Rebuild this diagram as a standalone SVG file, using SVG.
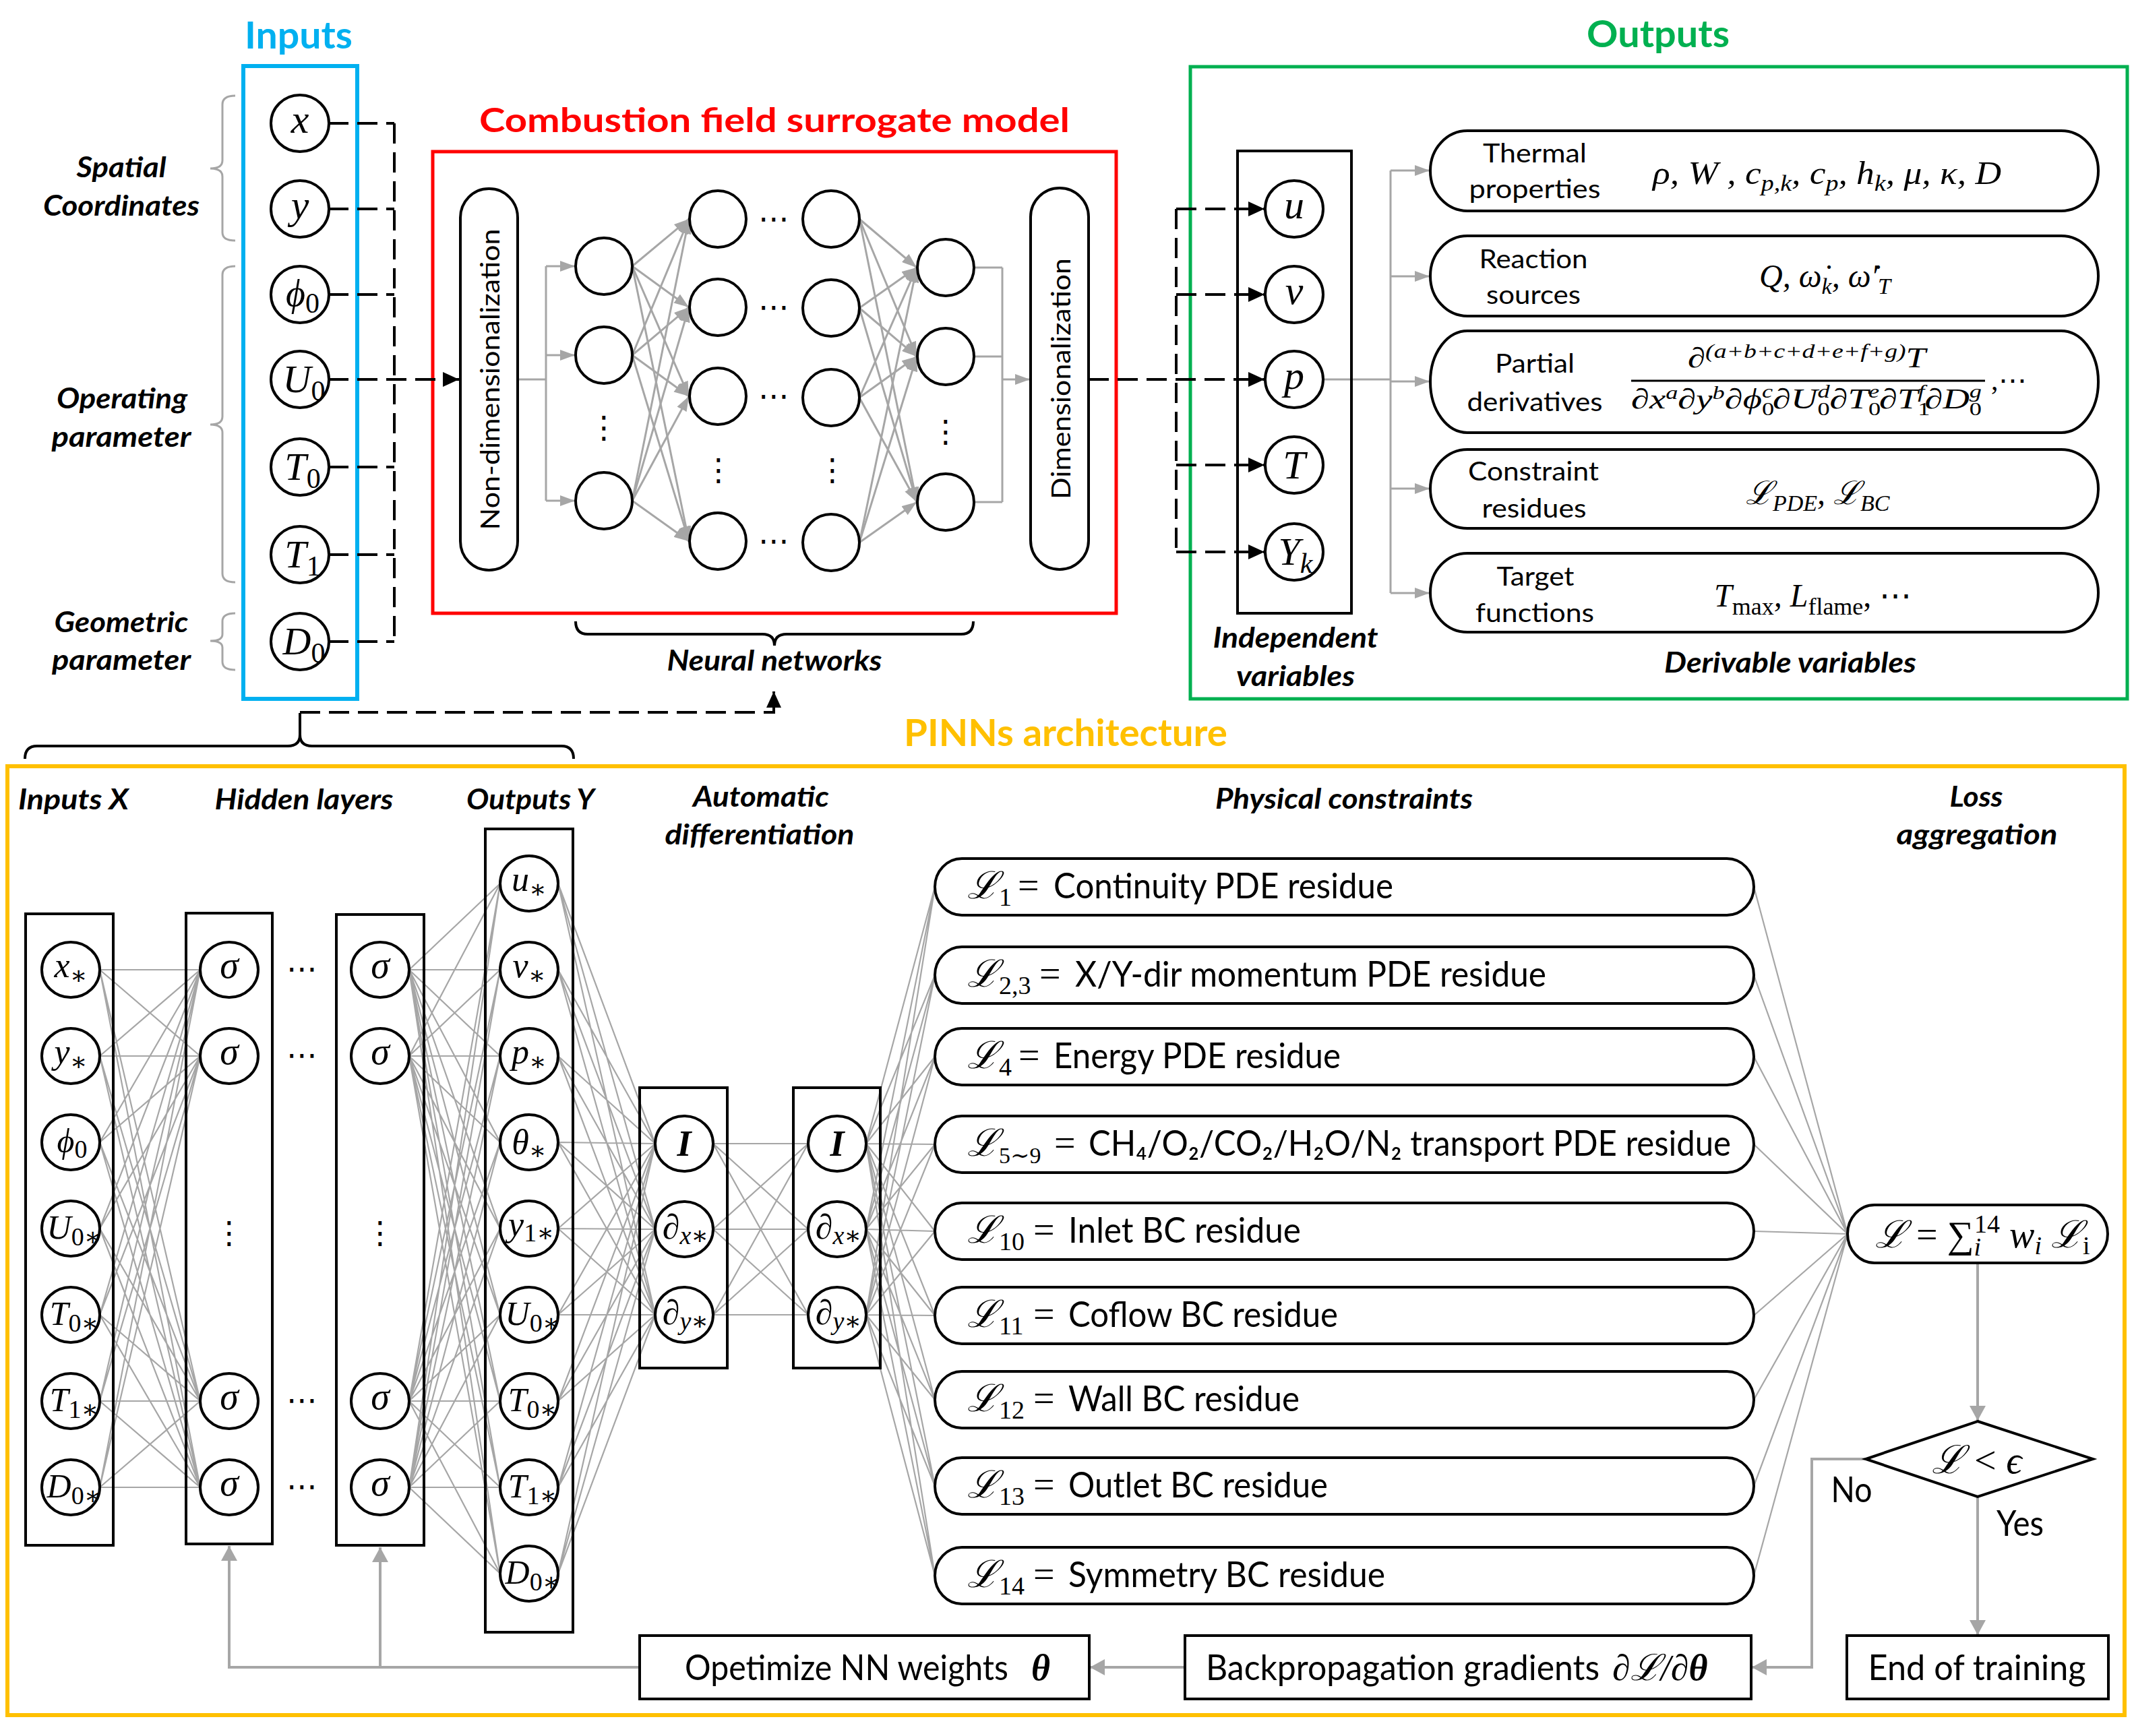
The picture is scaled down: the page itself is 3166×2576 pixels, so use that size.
<svg xmlns="http://www.w3.org/2000/svg" width="3166" height="2576" viewBox="0 0 3166 2576">
<defs>
<style>
.bx{fill:none;stroke:#000;stroke-width:4}
.nd{fill:#fff;stroke:#000;stroke-width:4}
.gl{fill:none;stroke:#A6A6A6;stroke-width:2.2}
.ga{fill:none;stroke:#A6A6A6;stroke-width:3}
.gf{fill:none;stroke:#A6A6A6;stroke-width:4}
.dl{fill:none;stroke:#000;stroke-width:4;stroke-dasharray:30 13}
.br{fill:none;stroke:#A6A6A6;stroke-width:3}
.bk{fill:none;stroke:#000;stroke-width:4}
.ti{font-family:Lato,'Open Sans',sans-serif;font-weight:700;text-anchor:middle}
.bi{font-family:Lato,'Open Sans',sans-serif;font-weight:700;font-style:italic;text-anchor:middle;font-size:42px;fill:#000}
.tx{font-family:Lato,'Open Sans',sans-serif;font-size:38px;text-anchor:middle;fill:#000}
.pt{font-family:Lato,'Open Sans',sans-serif;font-size:52px;fill:#000}
.mt{font-family:'Liberation Serif','DejaVu Serif',serif;font-style:italic;fill:#000}
.mr{font-family:'Liberation Serif','DejaVu Serif',serif;fill:#000}
.nl{font-family:'Liberation Serif','DejaVu Serif',serif;font-style:italic;text-anchor:middle;fill:#000}
.dots{font-family:'DejaVu Sans',sans-serif;font-size:46px;text-anchor:middle;fill:#000}
</style>
<marker id="ag" markerUnits="userSpaceOnUse" markerWidth="22" markerHeight="16" viewBox="0 0 22 16" refX="22" refY="8" orient="auto"><path d="M0,0 L22,8 L0,16 z" fill="#A6A6A6"/></marker>
<marker id="ag2" markerUnits="userSpaceOnUse" markerWidth="22" markerHeight="24" viewBox="0 0 22 24" refX="22" refY="12" orient="auto"><path d="M0,0 L22,12 L0,24 z" fill="#A6A6A6"/></marker>
<marker id="ab" markerUnits="userSpaceOnUse" markerWidth="24" markerHeight="22" viewBox="0 0 24 22" refX="24" refY="11" orient="auto"><path d="M0,0 L24,11 L0,22 z" fill="#000"/></marker>
</defs>
<rect x="0" y="0" width="3166" height="2576" fill="#fff"/>

<g id="frames">
<rect x="361" y="98" width="169" height="939" fill="none" stroke="#00B0F0" stroke-width="6"/>
<text class="ti" x="443" y="72" font-size="56" fill="#00B0F0" textLength="160" lengthAdjust="spacingAndGlyphs">Inputs</text>
<rect x="642" y="225" width="1014" height="685" fill="none" stroke="#FF0000" stroke-width="5"/>
<text class="ti" x="1149" y="196" font-size="50" fill="#FF0000" textLength="876" lengthAdjust="spacingAndGlyphs">Combustion field surrogate model</text>
<rect x="1766" y="99" width="1390" height="938" fill="none" stroke="#00B050" stroke-width="5"/>
<text class="ti" x="2460" y="70" font-size="56" fill="#00B050" textLength="212" lengthAdjust="spacingAndGlyphs">Outputs</text>
<rect x="11" y="1137" width="3141" height="1408" fill="none" stroke="#FFC000" stroke-width="6"/>
<text class="ti" x="1581" y="1107" font-size="56" fill="#FFC000" textLength="480" lengthAdjust="spacingAndGlyphs">PINNs architecture</text>
</g>

<g id="labels">
<text class="bi" x="180" y="263" textLength="133" lengthAdjust="spacingAndGlyphs">Spatial</text>
<text class="bi" x="180" y="320" textLength="232" lengthAdjust="spacingAndGlyphs">Coordinates</text>
<text class="bi" x="181" y="606" textLength="194" lengthAdjust="spacingAndGlyphs">Operating</text>
<text class="bi" x="180" y="663" textLength="207" lengthAdjust="spacingAndGlyphs">parameter</text>
<text class="bi" x="180" y="938" textLength="199" lengthAdjust="spacingAndGlyphs">Geometric</text>
<text class="bi" x="180" y="994" textLength="206" lengthAdjust="spacingAndGlyphs">parameter</text>
<text class="bi" x="1149" y="995" textLength="319" lengthAdjust="spacingAndGlyphs">Neural networks</text>
<text class="bi" x="1922" y="961" textLength="245" lengthAdjust="spacingAndGlyphs">Independent</text>
<text class="bi" x="1922" y="1018" textLength="176" lengthAdjust="spacingAndGlyphs">variables</text>
<text class="bi" x="2656" y="998" textLength="374" lengthAdjust="spacingAndGlyphs">Derivable variables</text>
<text class="bi" x="109" y="1201" textLength="164" lengthAdjust="spacingAndGlyphs">Inputs X</text>
<text class="bi" x="451" y="1201" textLength="265" lengthAdjust="spacingAndGlyphs">Hidden layers</text>
<text class="bi" x="787" y="1201" textLength="190" lengthAdjust="spacingAndGlyphs">Outputs Y</text>
<text class="bi" x="1129" y="1197" textLength="202" lengthAdjust="spacingAndGlyphs">Automatic</text>
<text class="bi" x="1127" y="1253" textLength="281" lengthAdjust="spacingAndGlyphs">differentiation</text>
<text class="bi" x="1994" y="1200" textLength="382" lengthAdjust="spacingAndGlyphs">Physical constraints</text>
<text class="bi" x="2932" y="1197" textLength="79" lengthAdjust="spacingAndGlyphs">Loss</text>
<text class="bi" x="2933" y="1253" textLength="239" lengthAdjust="spacingAndGlyphs">aggregation</text>
<path class="br" d="M349 142 Q330 142 330 155 L330 238 Q330 250 312 250 Q330 250 330 262 L330 345 Q330 357 349 357"/>
<path class="br" d="M349 395 Q330 395 330 408 L330 618 Q330 630 312 630 Q330 630 330 642 L330 851 Q330 864 349 864"/>
<path class="br" d="M349 910 Q330 910 330 922 L330 941 Q330 951 312 951 Q330 951 330 961 L330 982 Q330 994 349 994"/>
<path class="bk" d="M854 922 Q854 941 872 941 L1131 941 Q1149 941 1149 958 Q1149 941 1167 941 L1426 941 Q1444 941 1444 922"/>
<path class="bk" d="M37 1126 Q37 1107 55 1107 L427 1107 Q445 1107 445 1090 Q445 1107 463 1107 L833 1107 Q851 1107 851 1126 M445 1090 L445 1058"/>
</g>

<g id="connectors">
<path class="dl" d="M487 183 L585 183 M487 310 L585 310 M487 437 L585 437 M487 693 L585 693 M487 823 L585 823 M487 952 L585 952 M585 183 L585 952"/>
<path class="dl" d="M487 563 L681 563" marker-end="url(#ab)"/>
<path class="ga" d="M768 563 L810 563 M810 395 L810 743 M1445 397 L1487 397 M1445 529 L1487 529 M1445 745 L1487 745 M1487 397 L1487 745"/>
<g class="ga" marker-end="url(#ag)">
<line x1="810" y1="395" x2="853" y2="395"/><line x1="810" y1="527" x2="853" y2="527"/><line x1="810" y1="743" x2="853" y2="743"/>
<line x1="1487" y1="563" x2="1528" y2="563"/>
<line x1="938" y1="395" x2="1022" y2="325"/><line x1="938" y1="395" x2="1022" y2="456"/><line x1="938" y1="395" x2="1022" y2="588"/><line x1="938" y1="395" x2="1022" y2="803"/>
<line x1="938" y1="527" x2="1022" y2="325"/><line x1="938" y1="527" x2="1022" y2="456"/><line x1="938" y1="527" x2="1022" y2="588"/><line x1="938" y1="527" x2="1022" y2="803"/>
<line x1="938" y1="743" x2="1022" y2="325"/><line x1="938" y1="743" x2="1022" y2="456"/><line x1="938" y1="743" x2="1022" y2="588"/><line x1="938" y1="743" x2="1022" y2="803"/>
<line x1="1275" y1="325" x2="1360" y2="397"/><line x1="1275" y1="325" x2="1360" y2="529"/><line x1="1275" y1="325" x2="1360" y2="745"/>
<line x1="1275" y1="457" x2="1360" y2="397"/><line x1="1275" y1="457" x2="1360" y2="529"/><line x1="1275" y1="457" x2="1360" y2="745"/>
<line x1="1275" y1="590" x2="1360" y2="397"/><line x1="1275" y1="590" x2="1360" y2="529"/><line x1="1275" y1="590" x2="1360" y2="745"/>
<line x1="1275" y1="805" x2="1360" y2="397"/><line x1="1275" y1="805" x2="1360" y2="529"/><line x1="1275" y1="805" x2="1360" y2="745"/>
</g>
<path class="dl" d="M1745 310 L1745 819"/>
<g class="dl" marker-end="url(#ab)">
<line x1="1615" y1="563" x2="1876" y2="563"/>
<line x1="1745" y1="310" x2="1876" y2="310"/>
<line x1="1745" y1="437" x2="1876" y2="437"/>
<line x1="1745" y1="690" x2="1876" y2="690"/>
<line x1="1745" y1="819" x2="1876" y2="819"/>
</g>
<path class="ga" d="M1963 563 L2063 563 M2063 253 L2063 880"/>
<g class="ga" marker-end="url(#ag)">
<line x1="2063" y1="253" x2="2121" y2="253"/>
<line x1="2063" y1="410" x2="2121" y2="410"/>
<line x1="2063" y1="566" x2="2121" y2="566"/>
<line x1="2063" y1="725" x2="2121" y2="725"/>
<line x1="2063" y1="880" x2="2121" y2="880"/>
</g>
<path class="dl" d="M445 1057 L1148 1057 L1148 1026" marker-end="url(#ab)"/>
<path class="gl" d="M148 1439L297 1439M148 1439L297 1567M148 1439L297 2079M148 1439L297 2207M148 1567L297 1439M148 1567L297 1567M148 1567L297 2079M148 1567L297 2207M148 1695L297 1439M148 1695L297 1567M148 1695L297 2079M148 1695L297 2207M148 1823L297 1439M148 1823L297 1567M148 1823L297 2079M148 1823L297 2207M148 1951L297 1439M148 1951L297 1567M148 1951L297 2079M148 1951L297 2207M148 2079L297 1439M148 2079L297 1567M148 2079L297 2079M148 2079L297 2207M148 2207L297 1439M148 2207L297 1567M148 2207L297 2079M148 2207L297 2207"/>
<path class="gl" d="M607 1439L742 1311M607 1439L742 1439M607 1439L742 1567M607 1439L742 1695M607 1439L742 1823M607 1439L742 1951M607 1439L742 2079M607 1439L742 2207M607 1439L742 2335M607 1567L742 1311M607 1567L742 1439M607 1567L742 1567M607 1567L742 1695M607 1567L742 1823M607 1567L742 1951M607 1567L742 2079M607 1567L742 2207M607 1567L742 2335M607 2079L742 1311M607 2079L742 1439M607 2079L742 1567M607 2079L742 1695M607 2079L742 1823M607 2079L742 1951M607 2079L742 2079M607 2079L742 2207M607 2079L742 2335M607 2207L742 1311M607 2207L742 1439M607 2207L742 1567M607 2207L742 1695M607 2207L742 1823M607 2207L742 1951M607 2207L742 2079M607 2207L742 2207M607 2207L742 2335"/>
<path class="gl" d="M828 1311L972 1697M828 1311L972 1824M828 1311L972 1951M828 1439L972 1697M828 1439L972 1824M828 1439L972 1951M828 1567L972 1697M828 1567L972 1824M828 1567L972 1951M828 1695L972 1697M828 1695L972 1824M828 1695L972 1951M828 1823L972 1697M828 1823L972 1824M828 1823L972 1951M828 1951L972 1697M828 1951L972 1824M828 1951L972 1951M828 2079L972 1697M828 2079L972 1824M828 2079L972 1951M828 2207L972 1697M828 2207L972 1824M828 2207L972 1951M828 2335L972 1697M828 2335L972 1824M828 2335L972 1951"/>
<path class="gl" d="M1058 1697L1199 1697M1058 1697L1199 1824M1058 1697L1199 1951M1058 1824L1199 1697M1058 1824L1199 1824M1058 1824L1199 1951M1058 1951L1199 1697M1058 1951L1199 1824M1058 1951L1199 1951"/>
<path class="gl" d="M1285 1697L1387 1316M1285 1697L1387 1447M1285 1697L1387 1568M1285 1697L1387 1698M1285 1697L1387 1827M1285 1697L1387 1952M1285 1697L1387 2077M1285 1697L1387 2205M1285 1697L1387 2338M1285 1824L1387 1316M1285 1824L1387 1447M1285 1824L1387 1568M1285 1824L1387 1698M1285 1824L1387 1827M1285 1824L1387 1952M1285 1824L1387 2077M1285 1824L1387 2205M1285 1824L1387 2338M1285 1951L1387 1316M1285 1951L1387 1447M1285 1951L1387 1568M1285 1951L1387 1698M1285 1951L1387 1827M1285 1951L1387 1952M1285 1951L1387 2077M1285 1951L1387 2205M1285 1951L1387 2338"/>
<path class="gl" d="M2602 1316L2741 1831M2602 1447L2741 1831M2602 1568L2741 1831M2602 1698L2741 1831M2602 1827L2741 1831M2602 1952L2741 1831M2602 2077L2741 1831M2602 2205L2741 1831M2602 2338L2741 1831"/>
<path class="gf" d="M949 2474 L340 2474 L340 2294" marker-end="url(#ag2)"/>
<path class="gf" d="M564 2474 L564 2296" marker-end="url(#ag2)"/>
<path class="gf" d="M1758 2474 L1617 2474" marker-end="url(#ag2)"/>
<path class="gf" d="M2768 2165 L2688 2165 L2688 2474 L2599 2474" marker-end="url(#ag2)"/>
<path class="gf" d="M2934 1874 L2934 2108" marker-end="url(#ag2)"/>
<path class="gf" d="M2934 2221 L2934 2426" marker-end="url(#ag2)"/>
</g>

<g id="input-nodes">
<g id="in-x"><ellipse class="nd" cx="445" cy="183" rx="43" ry="42"/><text class="nl" x="445" y="197" font-size="60">x</text></g>
<g id="in-y"><ellipse class="nd" cx="445" cy="310" rx="43" ry="42"/><text class="nl" x="445" y="324" font-size="60">y</text></g>
<g id="in-phi0"><ellipse class="nd" cx="445" cy="437" rx="43" ry="42"/><text class="nl" x="449" y="454" font-size="56">ϕ<tspan font-size="42" font-style="normal" dy="10">0</tspan></text></g>
<g id="in-U0"><ellipse class="nd" cx="445" cy="563" rx="43" ry="42"/><text class="nl" x="451" y="582" font-size="58">U<tspan font-size="42" font-style="normal" dy="12">0</tspan></text></g>
<g id="in-T0"><ellipse class="nd" cx="445" cy="693" rx="43" ry="42"/><text class="nl" x="449" y="712" font-size="58">T<tspan font-size="42" font-style="normal" dy="12">0</tspan></text></g>
<g id="in-T1"><ellipse class="nd" cx="445" cy="823" rx="43" ry="42"/><text class="nl" x="449" y="842" font-size="58">T<tspan font-size="42" font-style="normal" dy="12">1</tspan></text></g>
<g id="in-D0"><ellipse class="nd" cx="445" cy="952" rx="43" ry="42"/><text class="nl" x="451" y="971" font-size="58">D<tspan font-size="42" font-style="normal" dy="12">0</tspan></text></g>
</g>

<g id="surrogate-model">
<g id="non-dim"><rect class="nd" x="683" y="280" width="85" height="566" rx="42" ry="43"/><text class="tx" font-size="44" transform="translate(741 563) rotate(-90)" textLength="447" lengthAdjust="spacingAndGlyphs">Non-dimensionalization</text></g>
<g id="dim"><rect class="nd" x="1529" y="279" width="86" height="566" rx="43" ry="43"/><text class="tx" font-size="44" transform="translate(1588 562) rotate(-90)" textLength="358" lengthAdjust="spacingAndGlyphs">Dimensionalization</text></g>
<g id="nn-col1"><circle class="nd" cx="896" cy="395" r="42"/><circle class="nd" cx="896" cy="527" r="42"/><circle class="nd" cx="896" cy="743" r="42"/><text class="dots" x="896" y="650">⋮</text></g>
<g id="nn-col2"><circle class="nd" cx="1065" cy="325" r="42"/><circle class="nd" cx="1065" cy="456" r="42"/><circle class="nd" cx="1065" cy="588" r="42"/><circle class="nd" cx="1065" cy="803" r="42"/><text class="dots" x="1066" y="713">⋮</text></g>
<g id="nn-col3"><circle class="nd" cx="1233" cy="325" r="42"/><circle class="nd" cx="1233" cy="457" r="42"/><circle class="nd" cx="1233" cy="590" r="42"/><circle class="nd" cx="1233" cy="805" r="42"/><text class="dots" x="1235" y="713">⋮</text></g>
<g id="nn-col4"><circle class="nd" cx="1403" cy="397" r="42"/><circle class="nd" cx="1403" cy="529" r="42"/><circle class="nd" cx="1403" cy="745" r="42"/><text class="dots" x="1403" y="656">⋮</text></g>
<g id="nn-hdots"><text class="dots" x="1148" y="340">⋯</text><text class="dots" x="1148" y="471">⋯</text><text class="dots" x="1148" y="603">⋯</text><text class="dots" x="1148" y="818">⋯</text></g>
</g>

<g id="independent-variables">
<rect class="bx" x="1836" y="224" width="169" height="686"/>
<g id="iv-u"><ellipse class="nd" cx="1920" cy="310" rx="43" ry="42"/><text class="nl" x="1920" y="324" font-size="60">u</text></g>
<g id="iv-v"><ellipse class="nd" cx="1920" cy="437" rx="43" ry="42"/><text class="nl" x="1920" y="451" font-size="60">v</text></g>
<g id="iv-p"><ellipse class="nd" cx="1920" cy="563" rx="43" ry="42"/><text class="nl" x="1920" y="577" font-size="60">p</text></g>
<g id="iv-T"><ellipse class="nd" cx="1920" cy="690" rx="43" ry="42"/><text class="nl" x="1920" y="710" font-size="60">T</text></g>
<g id="iv-Yk"><ellipse class="nd" cx="1920" cy="819" rx="43" ry="42"/><text class="nl" x="1922" y="838" font-size="58">Y<tspan font-size="42" dy="12">k</tspan></text></g>
</g>

<g id="derivable-variables">
<g id="dv-thermal"><rect class="nd" x="2122" y="194" width="991" height="119" rx="55" ry="59"/>
<text class="tx" x="2277" y="241" textLength="154" lengthAdjust="spacingAndGlyphs">Thermal</text><text class="tx" x="2277" y="294" textLength="195" lengthAdjust="spacingAndGlyphs">properties</text>
<text class="mt" x="2452" y="273" font-size="48" textLength="517" lengthAdjust="spacingAndGlyphs">ρ, W , c<tspan font-size="34" dy="10">p,k</tspan><tspan dy="-10">, c</tspan><tspan font-size="34" dy="10">p</tspan><tspan dy="-10">, h</tspan><tspan font-size="34" dy="10">k</tspan><tspan dy="-10">, μ, κ, D</tspan></text></g>
<g id="dv-reaction"><rect class="nd" x="2122" y="350" width="991" height="119" rx="55" ry="59"/>
<text class="tx" x="2275" y="398" textLength="161" lengthAdjust="spacingAndGlyphs">Reaction</text><text class="tx" x="2275" y="451" textLength="140" lengthAdjust="spacingAndGlyphs">sources</text>
<text class="mt" x="2610" y="426" font-size="48">Q, ω̇<tspan font-size="34" dy="10">k</tspan><tspan dy="-10">, ω̇′</tspan><tspan font-size="34" dy="10">T</tspan></text></g>
<g id="dv-partial"><rect class="nd" x="2122" y="491" width="991" height="151" rx="55" ry="75"/>
<text class="tx" x="2277" y="553" textLength="118" lengthAdjust="spacingAndGlyphs">Partial</text><text class="tx" x="2277" y="610" textLength="201" lengthAdjust="spacingAndGlyphs">derivatives</text>
<text class="mt" x="2504" y="545" font-size="42" textLength="353" lengthAdjust="spacingAndGlyphs">∂<tspan font-size="30" dy="-14">(a+b+c+d+e+f+g)</tspan><tspan dy="14">T</tspan></text>
<line x1="2420" y1="565" x2="2945" y2="565" stroke="#000" stroke-width="3"/>
<text class="mt" x="2420" y="606" font-size="42" textLength="520" lengthAdjust="spacingAndGlyphs">∂x<tspan font-size="28" dy="-14">a</tspan><tspan dy="14">∂y</tspan><tspan font-size="28" dy="-14">b</tspan><tspan dy="14">∂ϕ</tspan><tspan font-size="28" font-style="normal" dy="10">0</tspan><tspan font-size="28" dx="-14" dy="-26">c</tspan><tspan dy="16">∂U</tspan><tspan font-size="28" font-style="normal" dy="10">0</tspan><tspan font-size="28" dx="-14" dy="-26">d</tspan><tspan dy="16">∂T</tspan><tspan font-size="28" font-style="normal" dy="10">0</tspan><tspan font-size="28" dx="-14" dy="-26">e</tspan><tspan dy="16">∂T</tspan><tspan font-size="28" font-style="normal" dy="10">1</tspan><tspan font-size="28" dx="-14" dy="-26">f</tspan><tspan dy="16">∂D</tspan><tspan font-size="28" font-style="normal" dy="10">0</tspan><tspan font-size="28" dx="-14" dy="-26">g</tspan></text>
<text class="mr" x="2954" y="578" font-size="42">,⋯</text></g>
<g id="dv-constraint"><rect class="nd" x="2122" y="667" width="991" height="117" rx="55" ry="58"/>
<text class="tx" x="2275" y="713" textLength="194" lengthAdjust="spacingAndGlyphs">Constraint</text><text class="tx" x="2276" y="768" textLength="155" lengthAdjust="spacingAndGlyphs">residues</text>
<text class="mt" x="2590" y="748" font-size="48">ℒ<tspan font-size="34" dy="10">PDE</tspan><tspan dy="-10">, ℒ</tspan><tspan font-size="34" dy="10">BC</tspan></text></g>
<g id="dv-target"><rect class="nd" x="2122" y="821" width="991" height="117" rx="55" ry="58"/>
<text class="tx" x="2278" y="869" textLength="115" lengthAdjust="spacingAndGlyphs">Target</text><text class="tx" x="2277" y="923" textLength="176" lengthAdjust="spacingAndGlyphs">functions</text>
<text class="mt" x="2543" y="900" font-size="48">T<tspan font-size="36" font-style="normal" dy="12">max</tspan><tspan dy="-12">, L</tspan><tspan font-size="36" font-style="normal" dy="12">flame</tspan><tspan dy="-12" font-style="normal">, ⋯</tspan></text></g>
</g>

<g id="pinn-inputs">
<rect class="bx" x="38" y="1356" width="130" height="937"/>
<g id="px-x"><ellipse class="nd" cx="105" cy="1439" rx="43" ry="41"/><text class="nl" x="105" y="1450" font-size="52">x<tspan font-size="38" font-style="normal" dy="10">∗</tspan></text></g>
<g id="px-y"><ellipse class="nd" cx="105" cy="1567" rx="43" ry="41"/><text class="nl" x="105" y="1578" font-size="52">y<tspan font-size="38" font-style="normal" dy="10">∗</tspan></text></g>
<g id="px-phi"><ellipse class="nd" cx="105" cy="1695" rx="43" ry="41"/><text class="nl" x="107" y="1710" font-size="50">ϕ<tspan font-size="38" font-style="normal" dy="8">0</tspan></text></g>
<g id="px-U0"><ellipse class="nd" cx="105" cy="1823" rx="43" ry="41"/><text class="nl" x="110" y="1838" font-size="50">U<tspan font-size="38" font-style="normal" dy="10">0∗</tspan></text></g>
<g id="px-T0"><ellipse class="nd" cx="105" cy="1951" rx="43" ry="41"/><text class="nl" x="110" y="1966" font-size="50">T<tspan font-size="38" font-style="normal" dy="10">0∗</tspan></text></g>
<g id="px-T1"><ellipse class="nd" cx="105" cy="2079" rx="43" ry="41"/><text class="nl" x="110" y="2094" font-size="50">T<tspan font-size="38" font-style="normal" dy="10">1∗</tspan></text></g>
<g id="px-D0"><ellipse class="nd" cx="105" cy="2207" rx="43" ry="41"/><text class="nl" x="110" y="2222" font-size="50">D<tspan font-size="38" font-style="normal" dy="10">0∗</tspan></text></g>
</g>

<g id="pinn-hidden1">
<rect class="bx" x="276" y="1355" width="128" height="936"/>
<ellipse class="nd" cx="340" cy="1439" rx="43" ry="41"/><ellipse class="nd" cx="340" cy="1567" rx="43" ry="41"/><ellipse class="nd" cx="340" cy="2079" rx="43" ry="41"/><ellipse class="nd" cx="340" cy="2207" rx="43" ry="41"/>
<text class="nl" x="340" y="1451" font-size="56">σ</text><text class="nl" x="340" y="1579" font-size="56">σ</text><text class="nl" x="340" y="2091" font-size="56">σ</text><text class="nl" x="340" y="2219" font-size="56">σ</text>
<text class="dots" x="340" y="1845">⋮</text>
</g>
<g id="pinn-hdots"><text class="dots" x="448" y="1453">⋯</text><text class="dots" x="448" y="1581">⋯</text><text class="dots" x="448" y="2093">⋯</text><text class="dots" x="448" y="2221">⋯</text></g>
<g id="pinn-hidden2">
<rect class="bx" x="499" y="1357" width="130" height="936"/>
<ellipse class="nd" cx="564" cy="1439" rx="43" ry="41"/><ellipse class="nd" cx="564" cy="1567" rx="43" ry="41"/><ellipse class="nd" cx="564" cy="2079" rx="43" ry="41"/><ellipse class="nd" cx="564" cy="2207" rx="43" ry="41"/>
<text class="nl" x="564" y="1451" font-size="56">σ</text><text class="nl" x="564" y="1579" font-size="56">σ</text><text class="nl" x="564" y="2091" font-size="56">σ</text><text class="nl" x="564" y="2219" font-size="56">σ</text>
<text class="dots" x="564" y="1845">⋮</text>
</g>

<g id="pinn-outputs">
<rect class="bx" x="720" y="1230" width="130" height="1192"/>
<g id="po-u"><ellipse class="nd" cx="785" cy="1311" rx="43" ry="41"/><text class="nl" x="785" y="1322" font-size="52">u<tspan font-size="38" font-style="normal" dy="10">∗</tspan></text></g>
<g id="po-v"><ellipse class="nd" cx="785" cy="1439" rx="43" ry="41"/><text class="nl" x="785" y="1450" font-size="52">v<tspan font-size="38" font-style="normal" dy="10">∗</tspan></text></g>
<g id="po-p"><ellipse class="nd" cx="785" cy="1567" rx="43" ry="41"/><text class="nl" x="785" y="1578" font-size="52">p<tspan font-size="38" font-style="normal" dy="10">∗</tspan></text></g>
<g id="po-theta"><ellipse class="nd" cx="785" cy="1695" rx="43" ry="41"/><text class="nl" x="785" y="1712" font-size="52">θ<tspan font-size="38" font-style="normal" dy="8">∗</tspan></text></g>
<g id="po-y1"><ellipse class="nd" cx="785" cy="1823" rx="43" ry="41"/><text class="nl" x="788" y="1834" font-size="52">y<tspan font-size="38" font-style="normal" dy="8">1∗</tspan></text></g>
<g id="po-U0"><ellipse class="nd" cx="785" cy="1951" rx="43" ry="41"/><text class="nl" x="790" y="1966" font-size="50">U<tspan font-size="38" font-style="normal" dy="10">0∗</tspan></text></g>
<g id="po-T0"><ellipse class="nd" cx="785" cy="2079" rx="43" ry="41"/><text class="nl" x="790" y="2094" font-size="50">T<tspan font-size="38" font-style="normal" dy="10">0∗</tspan></text></g>
<g id="po-T1"><ellipse class="nd" cx="785" cy="2207" rx="43" ry="41"/><text class="nl" x="790" y="2222" font-size="50">T<tspan font-size="38" font-style="normal" dy="10">1∗</tspan></text></g>
<g id="po-D0"><ellipse class="nd" cx="785" cy="2335" rx="43" ry="41"/><text class="nl" x="790" y="2350" font-size="50">D<tspan font-size="38" font-style="normal" dy="10">0∗</tspan></text></g>
</g>

<g id="autodiff-1">
<rect class="bx" x="949" y="1614" width="130" height="416"/>
<ellipse class="nd" cx="1015" cy="1697" rx="43" ry="41"/><ellipse class="nd" cx="1015" cy="1824" rx="43" ry="41"/><ellipse class="nd" cx="1015" cy="1951" rx="43" ry="41"/>
<text class="nl" x="1015" y="1715" font-size="54" font-weight="bold">I</text>
<text class="nl" x="1017" y="1838" font-size="52">∂<tspan font-size="38" dy="8">x∗</tspan></text>
<text class="nl" x="1017" y="1965" font-size="52">∂<tspan font-size="38" dy="8">y∗</tspan></text>
</g>
<g id="autodiff-2">
<rect class="bx" x="1177" y="1614" width="129" height="416"/>
<ellipse class="nd" cx="1242" cy="1697" rx="43" ry="41"/><ellipse class="nd" cx="1242" cy="1824" rx="43" ry="41"/><ellipse class="nd" cx="1242" cy="1951" rx="43" ry="41"/>
<text class="nl" x="1242" y="1715" font-size="54" font-weight="bold">I</text>
<text class="nl" x="1244" y="1838" font-size="52">∂<tspan font-size="38" dy="8">x∗</tspan></text>
<text class="nl" x="1244" y="1965" font-size="52">∂<tspan font-size="38" dy="8">y∗</tspan></text>
</g>

<g id="constraints">
<g id="c-L1"><rect class="nd" x="1387" y="1274" width="1215" height="84" rx="40" ry="42"/><text class="mt" x="1435" y="1333" font-size="56">ℒ<tspan font-size="38" font-style="normal" dy="11">1</tspan></text><text class="mr" x="1510" y="1333" font-size="56">=</text><text class="pt" x="1563" y="1333" textLength="504" lengthAdjust="spacingAndGlyphs">Continuity PDE residue</text></g>
<g id="c-L23"><rect class="nd" x="1387" y="1405" width="1215" height="84" rx="40" ry="42"/><text class="mt" x="1435" y="1464" font-size="56">ℒ<tspan font-size="38" font-style="normal" dy="11">2,3</tspan></text><text class="mr" x="1542" y="1464" font-size="56">=</text><text class="pt" x="1595" y="1464" textLength="699" lengthAdjust="spacingAndGlyphs">X/Y-dir momentum PDE residue</text></g>
<g id="c-L4"><rect class="nd" x="1387" y="1526" width="1215" height="84" rx="40" ry="42"/><text class="mt" x="1435" y="1585" font-size="56">ℒ<tspan font-size="38" font-style="normal" dy="11">4</tspan></text><text class="mr" x="1511" y="1585" font-size="56">=</text><text class="pt" x="1563" y="1585" textLength="426" lengthAdjust="spacingAndGlyphs">Energy PDE residue</text></g>
<g id="c-L59"><rect class="nd" x="1387" y="1656" width="1215" height="84" rx="40" ry="42"/><text class="mt" x="1435" y="1715" font-size="56">ℒ<tspan font-size="34" font-style="normal" dy="11">5∼9</tspan></text><text class="mr" x="1564" y="1715" font-size="56">=</text><text class="pt" x="1615" y="1715" font-size="50" textLength="953" lengthAdjust="spacingAndGlyphs">CH₄/O₂/CO₂/H₂O/N₂ transport PDE residue</text></g>
<g id="c-L10"><rect class="nd" x="1387" y="1785" width="1215" height="84" rx="40" ry="42"/><text class="mt" x="1435" y="1844" font-size="56">ℒ<tspan font-size="38" font-style="normal" dy="11">10</tspan></text><text class="mr" x="1533" y="1844" font-size="56">=</text><text class="pt" x="1585" y="1844" textLength="345" lengthAdjust="spacingAndGlyphs">Inlet BC residue</text></g>
<g id="c-L11"><rect class="nd" x="1387" y="1910" width="1215" height="84" rx="40" ry="42"/><text class="mt" x="1435" y="1969" font-size="56">ℒ<tspan font-size="38" font-style="normal" dy="11">11</tspan></text><text class="mr" x="1533" y="1969" font-size="56">=</text><text class="pt" x="1585" y="1969" textLength="400" lengthAdjust="spacingAndGlyphs">Coflow BC residue</text></g>
<g id="c-L12"><rect class="nd" x="1387" y="2035" width="1215" height="84" rx="40" ry="42"/><text class="mt" x="1435" y="2094" font-size="56">ℒ<tspan font-size="38" font-style="normal" dy="11">12</tspan></text><text class="mr" x="1533" y="2094" font-size="56">=</text><text class="pt" x="1585" y="2094" textLength="343" lengthAdjust="spacingAndGlyphs">Wall BC residue</text></g>
<g id="c-L13"><rect class="nd" x="1387" y="2163" width="1215" height="84" rx="40" ry="42"/><text class="mt" x="1435" y="2222" font-size="56">ℒ<tspan font-size="38" font-style="normal" dy="11">13</tspan></text><text class="mr" x="1533" y="2222" font-size="56">=</text><text class="pt" x="1585" y="2222" textLength="385" lengthAdjust="spacingAndGlyphs">Outlet BC residue</text></g>
<g id="c-L14"><rect class="nd" x="1387" y="2296" width="1215" height="84" rx="40" ry="42"/><text class="mt" x="1435" y="2355" font-size="56">ℒ<tspan font-size="38" font-style="normal" dy="11">14</tspan></text><text class="mr" x="1533" y="2355" font-size="56">=</text><text class="pt" x="1585" y="2355" textLength="470" lengthAdjust="spacingAndGlyphs">Symmetry BC residue</text></g>
</g>

<g id="loss">
<rect class="nd" x="2741" y="1788" width="386" height="86" rx="40" ry="43"/>
<text class="mt" x="2782" y="1851" font-size="56">ℒ <tspan font-style="normal">= ∑</tspan><tspan font-size="38" dy="12">i</tspan><tspan font-size="38" font-style="normal" dx="-10" dy="-34">14</tspan><tspan dy="22"> w</tspan><tspan font-size="38" dy="10">i</tspan><tspan dy="-10"> ℒ</tspan><tspan font-size="38" font-style="normal" dy="10">i</tspan></text>
</g>
<g id="check">
<polygon class="nd" points="2934,2109 3105,2165 2934,2221 2768,2165"/>
<text class="mt" x="2933" y="2186" font-size="58" text-anchor="middle">ℒ <tspan font-style="normal">&lt;</tspan> ϵ</text>
<text class="pt" x="2747" y="2229" font-size="44" text-anchor="middle" textLength="61" lengthAdjust="spacingAndGlyphs">No</text>
<text class="pt" x="2997" y="2279" font-size="44" text-anchor="middle" textLength="70" lengthAdjust="spacingAndGlyphs">Yes</text>
</g>
<g id="optimize">
<rect class="bx" x="949" y="2427" width="667" height="94" fill="#fff"/>
<text class="pt" x="1016" y="2493" font-size="46" textLength="480" lengthAdjust="spacingAndGlyphs">Opetimize NN weights</text>
<text class="mt" x="1530" y="2493" font-size="54" font-weight="bold">θ</text>
</g>
<g id="backprop">
<rect class="bx" x="1758" y="2427" width="840" height="94" fill="#fff"/>
<text class="pt" x="1789" y="2493" font-size="50" textLength="584" lengthAdjust="spacingAndGlyphs">Backpropagation gradients</text>
<text class="mt" x="2392" y="2493" font-size="54">∂ℒ/∂<tspan font-weight="bold">θ</tspan></text>
</g>
<g id="end">
<rect class="bx" x="2740" y="2427" width="388" height="94" fill="#fff"/>
<text class="pt" x="2933" y="2493" text-anchor="middle" textLength="323" lengthAdjust="spacingAndGlyphs">End of training</text>
</g>
</svg>
